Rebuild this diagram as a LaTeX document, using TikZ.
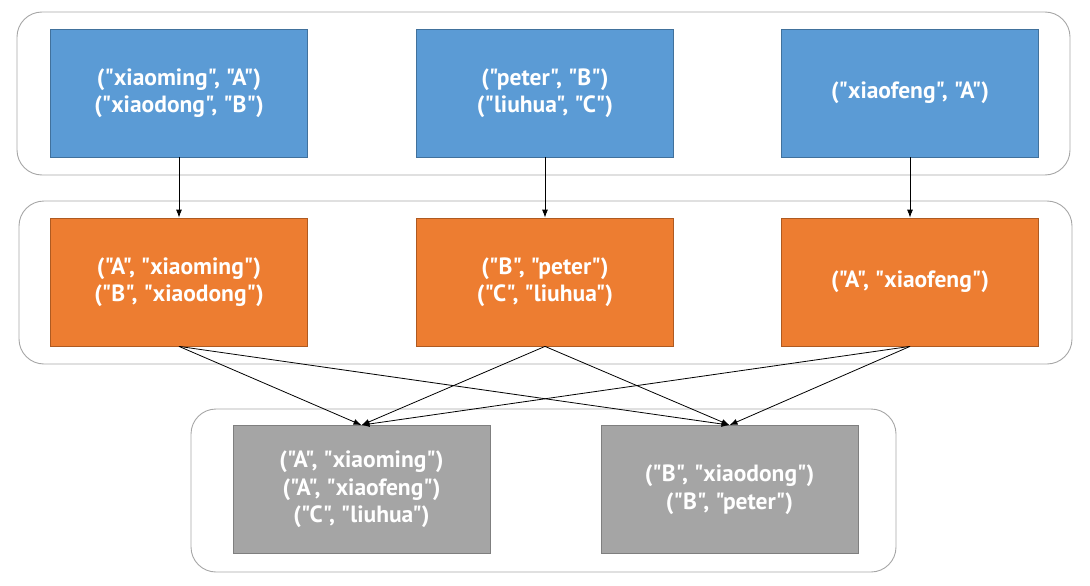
\documentclass[tikz,border=0pt]{standalone}
\usepackage{fontspec}
\setmainfont[Ligatures=TeXOff]{PT Sans}
\usetikzlibrary{arrows.meta}
\definecolor{mapblue}{HTML}{5B9BD5}
\definecolor{mapblueedge}{HTML}{41719C}
\definecolor{maporange}{HTML}{ED7D31}
\definecolor{maporangeedge}{HTML}{AE5A21}
\definecolor{mapgray}{HTML}{A5A5A5}
\definecolor{mapgrayedge}{HTML}{7F7F7F}
\definecolor{panelline}{HTML}{A6A6A6}
\tikzset{
  pairbox/.style={rectangle, minimum width=257pt, minimum height=128pt,
    align=center, text=white, line width=0.8pt,
    font=\fontsize{23.5}{27.5}\selectfont\bfseries},
  inbox/.style={pairbox, fill=mapblue, draw=mapblueedge},
  swapbox/.style={pairbox, fill=maporange, draw=maporangeedge},
  groupbox/.style={pairbox, fill=mapgray, draw=mapgrayedge},
  stage/.style={draw=panelline, line width=0.9pt, rounded corners=25pt},
  flow/.style={-{Latex[length=8pt,width=6pt]}, line width=0.8pt}
}

\begin{document}
\begin{tikzpicture}[x=1pt,y=-1pt]
  \useasboundingbox (0,0) rectangle (1090,586);

  % stages
  \draw[stage] (17,12) rectangle (1070,175);
  \draw[stage] (19,201) rectangle (1072,364);
  \draw[stage] (191,409) rectangle (896,572);

  % input pairs
  \node[inbox] (in1) at (179,93) {("xiaoming", "A")\\("xiaodong", "B")};
  \node[inbox] (in2) at (545,93) {("peter", "B")\\("liuhua", "C")};
  \node[inbox] (in3) at (910,93) {("xiaofeng", "A")};

  % swapped pairs
  \node[swapbox] (sw1) at (179,282) {("A", "xiaoming")\\("B", "xiaodong")};
  \node[swapbox] (sw2) at (545,282) {("B", "peter")\\("C", "liuhua")};
  \node[swapbox] (sw3) at (910,282) {("A", "xiaofeng")};

  % grouped by key
  \node[groupbox] (gr1) at (361.5,489.5) {("A", "xiaoming")\\("A", "xiaofeng")\\("C", "liuhua")};
  \node[groupbox] (gr2) at (729.5,489.5) {("B", "xiaodong")\\("B", "peter")};

  \foreach \i in {1,2,3}
    \draw[flow] (in\i.south) -- (sw\i.north);
  \foreach \i in {1,2,3}
    \foreach \j in {1,2}
      \draw[flow] (sw\i.south) -- (gr\j.north);
\end{tikzpicture}
\end{document}
